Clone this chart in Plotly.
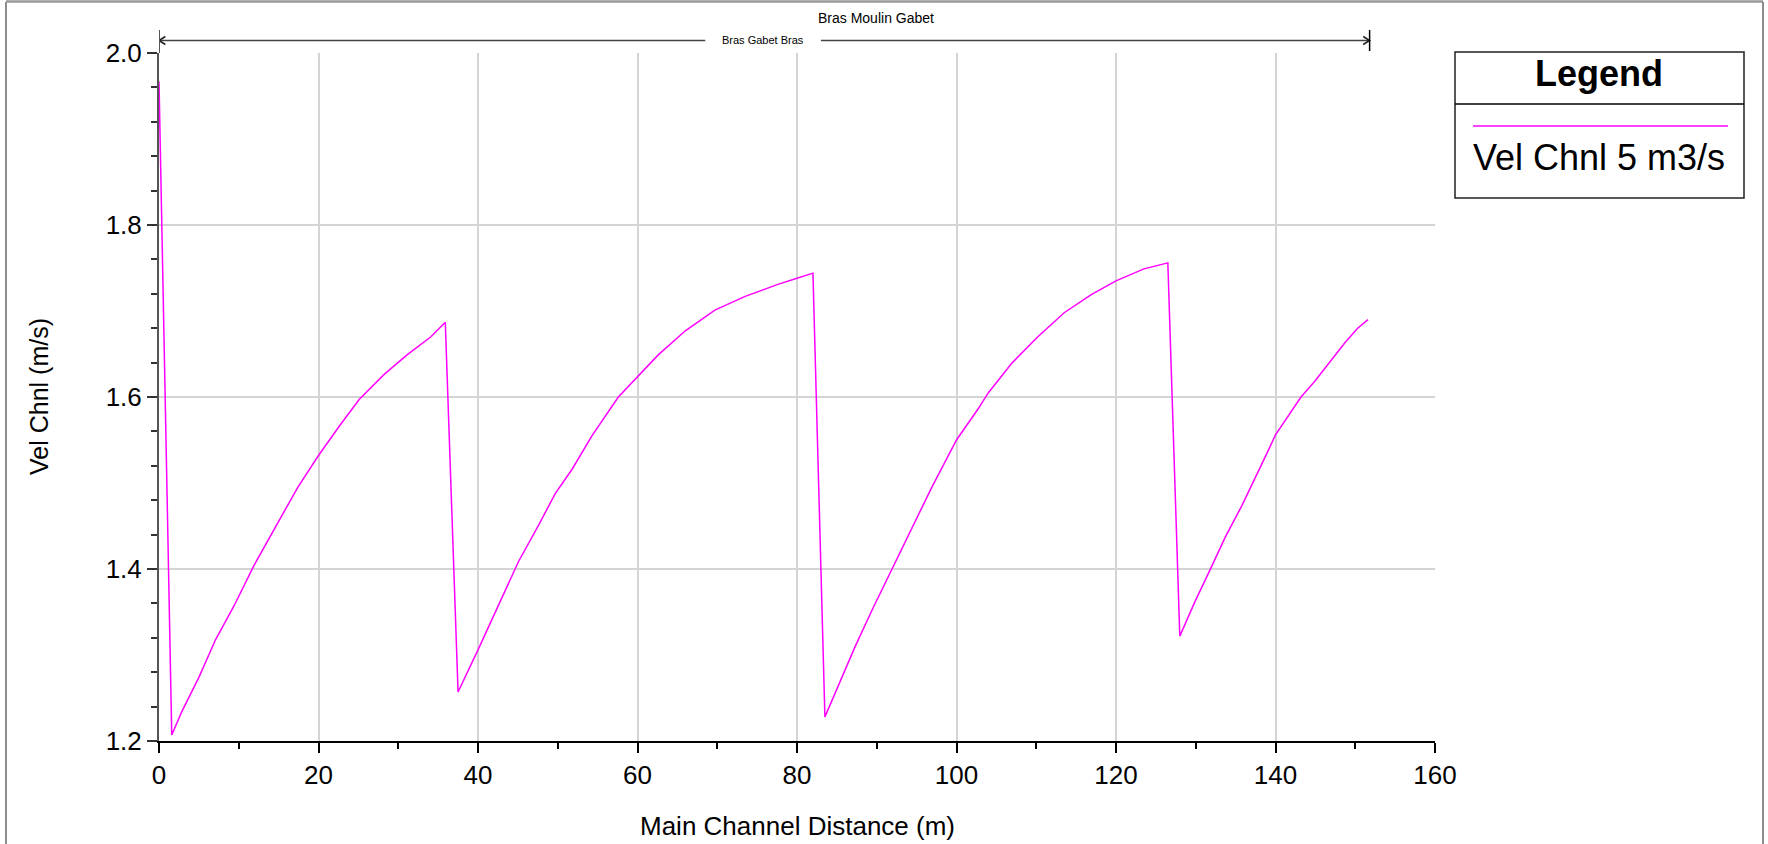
import plotly.graph_objects as go

# ---- data ----
distance_m = [0, 1.6, 2.8, 5.0, 7.1, 9.4, 11.9, 14.4, 17.4, 20.0, 22.6, 25.1, 28.2, 31.1, 34.1, 35.9,
              37.5, 40.0, 41.8, 43.7, 45.1, 47.6, 49.7, 51.8, 54.3, 57.6, 60.0, 62.6, 66.0, 69.7, 73.5, 77.6, 80.0, 82.0,
              83.5, 85.2, 87.3, 89.4, 91.9, 94.4, 96.9, 100.0, 102.7, 104.0, 106.9, 110.2, 113.5, 116.9, 120.0, 123.5, 126.5,
              128.0, 129.9, 132.0, 133.7, 135.8, 137.8, 139.1, 140.0, 141.6, 143.2, 144.9, 146.6, 148.7, 150.3, 151.6]
vel_chnl = [1.967, 1.207, 1.233, 1.274, 1.318, 1.357, 1.404, 1.446, 1.495, 1.532, 1.566, 1.597, 1.626, 1.649, 1.670, 1.687,
            1.257, 1.306, 1.342, 1.381, 1.409, 1.451, 1.488, 1.516, 1.555, 1.600, 1.623, 1.649, 1.677, 1.701, 1.717, 1.731, 1.738, 1.744,
            1.228, 1.264, 1.310, 1.352, 1.400, 1.448, 1.495, 1.550, 1.586, 1.605, 1.639, 1.670, 1.698, 1.719, 1.735, 1.749, 1.756,
            1.322, 1.362, 1.403, 1.437, 1.474, 1.512, 1.538, 1.556, 1.578, 1.600, 1.618, 1.638, 1.663, 1.680, 1.690]
series_name = "Vel Chnl 5 m3/s"
reach_outer = "Bras Moulin Gabet"
reach_inner = "Bras Gabet Bras"
reach_extent = [0, 151.8]
x_range = [0, 160]
y_range = [1.2, 2.0]

FONT = "Liberation Sans, Arial, sans-serif"
W, H = 1768, 844
L, R, T, B = 159, 333, 53, 103
pw, ph = W - L - R, H - T - B


def px_x(p):  # pixel -> paper x
    return (p - L) / pw


def px_y(p):  # pixel -> paper y
    return 1 - (p - T) / ph


fig = go.Figure()
fig.add_trace(go.Scatter(x=distance_m, y=vel_chnl, mode="lines", name=series_name,
                         line=dict(color="#FF00FF", width=1.5), showlegend=False))

axis_font = dict(family=FONT, size=26, color="black")
fig.update_xaxes(range=x_range, dtick=20, tick0=0, showgrid=True, gridcolor="#d4d4d4", gridwidth=1.5,
                 showline=True, linecolor="black", linewidth=2, ticks="outside", ticklen=10, tickwidth=1.5,
                 tickcolor="black", tickfont=axis_font, zeroline=False,
                 minor=dict(dtick=10, tick0=0, ticks="outside", ticklen=6, tickwidth=1.5, tickcolor="black", showgrid=False))
fig.update_yaxes(range=y_range, dtick=0.2, tick0=1.2, tickformat=".1f", showgrid=True, gridcolor="#d4d4d4", gridwidth=1.5,
                 showline=True, linecolor="#555555", linewidth=2, ticks="outside", ticklen=10, tickwidth=1.5,
                 tickcolor="#333333", tickfont=axis_font, zeroline=False,
                 minor=dict(dtick=0.04, tick0=1.2, ticks="outside", ticklen=6, tickwidth=1.5, tickcolor="#333333", showgrid=False))

shapes = []
annotations = []

# reach bracket above plot
y_br = px_y(40.5)
gap_l, gap_r = 68.5, 83.0
line_style = dict(color="#444444", width=1.5)
shapes.append(dict(type="line", xref="x", yref="paper", x0=reach_extent[0], x1=gap_l, y0=y_br, y1=y_br, line=line_style))
shapes.append(dict(type="line", xref="x", yref="paper", x0=gap_r, x1=reach_extent[1], y0=y_br, y1=y_br, line=line_style))
ah_dx, ah_dy = 0.8, 4 / ph
shapes.append(dict(type="path", xref="x", yref="paper",
                   path=f"M {reach_extent[0]+ah_dx},{y_br+ah_dy} L {reach_extent[0]},{y_br} L {reach_extent[0]+ah_dx},{y_br-ah_dy}",
                   line=dict(color="#222222", width=1.5)))
shapes.append(dict(type="path", xref="x", yref="paper",
                   path=f"M {reach_extent[1]-ah_dx},{y_br+ah_dy} L {reach_extent[1]},{y_br} L {reach_extent[1]-ah_dx},{y_br-ah_dy}",
                   line=dict(color="#222222", width=1.5)))
shapes.append(dict(type="line", xref="x", yref="paper", x0=reach_extent[1], x1=reach_extent[1],
                   y0=px_y(51), y1=px_y(30), line=dict(color="black", width=1.5)))
shapes.append(dict(type="line", xref="x", yref="paper", x0=reach_extent[0], x1=reach_extent[0],
                   y0=1, y1=px_y(30), line=dict(color="#555555", width=2)))

annotations.append(dict(text=reach_outer, xref="paper", yref="paper", x=px_x(876), y=px_y(18),
                        showarrow=False, font=dict(family=FONT, size=14, color="black"), xanchor="center", yanchor="middle"))
annotations.append(dict(text=reach_inner, xref="x", yref="paper", x=(gap_l + gap_r) / 2, y=y_br,
                        showarrow=False, font=dict(family=FONT, size=11, color="black"), xanchor="center", yanchor="middle"))

# axis titles
annotations.append(dict(text="Main Channel Distance (m)", xref="paper", yref="paper", x=0.5, y=px_y(826),
                        showarrow=False, font=dict(family=FONT, size=26, color="black"), xanchor="center", yanchor="middle"))
annotations.append(dict(text="Vel Chnl (m/s)", xref="paper", yref="paper", x=px_x(39), y=0.5, textangle=-90,
                        showarrow=False, font=dict(family=FONT, size=25, color="black"), xanchor="center", yanchor="middle"))

# legend box
lx0, lx1, ly0, ly1 = px_x(1455), px_x(1744), px_y(198), px_y(52)
shapes.append(dict(type="rect", xref="paper", yref="paper", x0=lx0, x1=lx1, y0=ly0, y1=ly1,
                   line=dict(color="#222222", width=1.5), fillcolor="rgba(0,0,0,0)"))
shapes.append(dict(type="line", xref="paper", yref="paper", x0=lx0, x1=lx1, y0=px_y(104), y1=px_y(104),
                   line=dict(color="black", width=1.5)))
shapes.append(dict(type="line", xref="paper", yref="paper", x0=px_x(1473), x1=px_x(1728), y0=px_y(126), y1=px_y(126),
                   line=dict(color="#FF00FF", width=1.5)))
annotations.append(dict(text="<b>Legend</b>", xref="paper", yref="paper", x=(lx0 + lx1) / 2, y=px_y(74),
                        showarrow=False, font=dict(family=FONT, size=36, color="black"), xanchor="center", yanchor="middle"))
annotations.append(dict(text=series_name, xref="paper", yref="paper", x=(lx0 + lx1) / 2, y=px_y(158),
                        showarrow=False, font=dict(family=FONT, size=36, color="black"), xanchor="center", yanchor="middle"))

# outer frame
shapes.append(dict(type="line", xref="paper", yref="paper", x0=px_x(6), x1=px_x(6), y0=px_y(2), y1=px_y(850),
                   line=dict(color="#666666", width=1.5)))
shapes.append(dict(type="line", xref="paper", yref="paper", x0=px_x(6), x1=px_x(1763), y0=px_y(1.5), y1=px_y(1.5),
                   line=dict(color="#999999", width=2.5)))
shapes.append(dict(type="line", xref="paper", yref="paper", x0=px_x(1763), x1=px_x(1763), y0=px_y(2), y1=px_y(850),
                   line=dict(color="#666666", width=1.5)))

fig.update_layout(width=W, height=H, margin=dict(l=L, r=R, t=T, b=B, autoexpand=False),
                  plot_bgcolor="white", paper_bgcolor="white", shapes=shapes, annotations=annotations,
                  font=dict(family=FONT, color="black"))

fig.write_html("out.html", config={"displayModeBar": False},
               post_script="document.body.style.margin='0';document.body.style.overflow='hidden';")
